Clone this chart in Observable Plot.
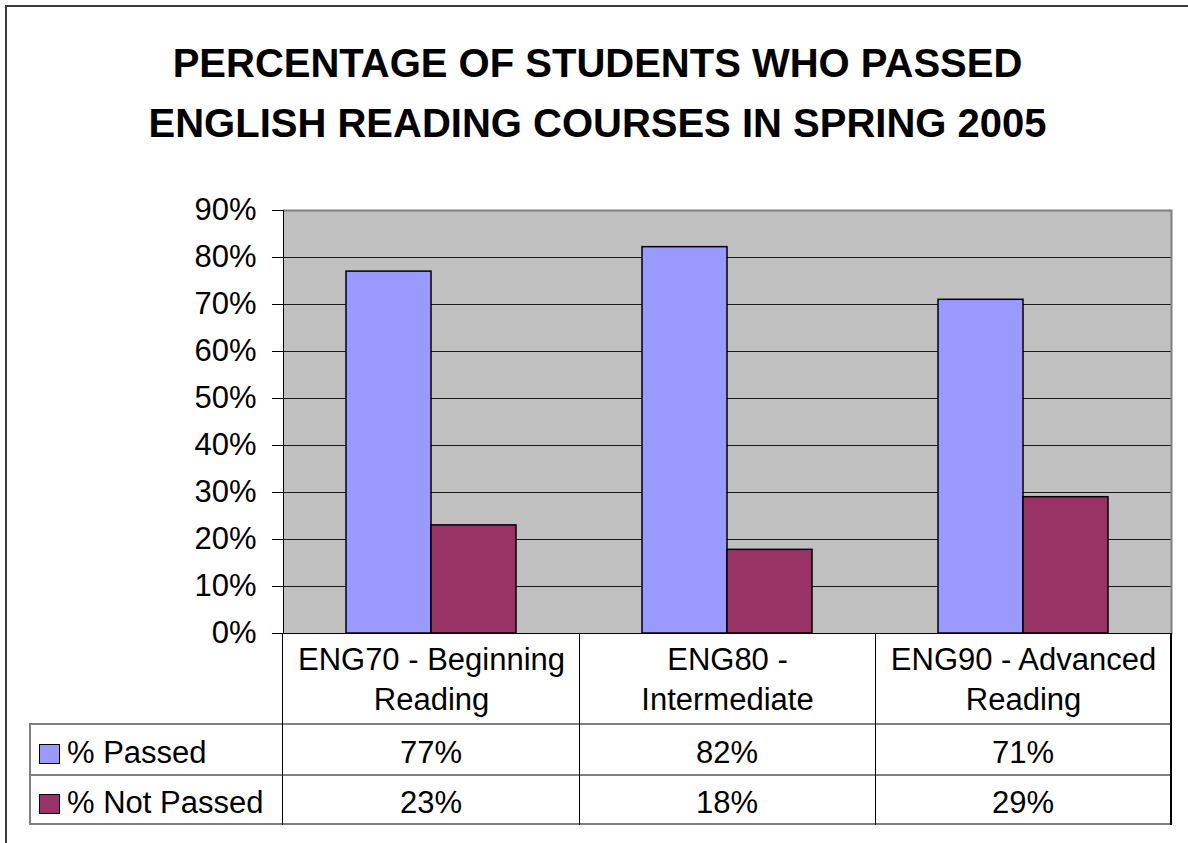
<!DOCTYPE html>
<html><head><meta charset="utf-8">
<script src="https://cdn.jsdelivr.net/npm/d3@7"></script>
<script src="https://cdn.jsdelivr.net/npm/@observablehq/plot@0.6"></script>
<style>
html,body{margin:0;padding:0;background:#fff;}
#wrap{position:relative;width:1188px;height:843px;overflow:hidden;font-family:"Liberation Sans",Arial,sans-serif;color:#000;}
#border{position:absolute;left:5px;top:5px;width:1300px;height:1000px;border-left:2px solid #3c3c3c;border-top:2px solid #3c3c3c;}
#title{position:absolute;left:0;top:33px;width:1195px;text-align:center;font-weight:bold;font-size:40px;line-height:60px;}
#chart{position:absolute;left:0;top:190px;}
.ln{position:absolute;}
.cell{position:absolute;text-align:center;font-size:31px;white-space:nowrap;}
.sw{display:inline-block;width:19px;height:18px;border:1.5px solid #000;margin-right:7px;vertical-align:-1px;}
</style>
</head><body>
<div id="wrap">
  <div id="border"></div>
  <div id="title">PERCENTAGE OF STUDENTS WHO PASSED<br>ENGLISH READING COURSES IN SPRING 2005</div>
  <div id="chart"></div>
</div>
<script>
const courses = ["ENG70 - Beginning Reading", "ENG80 - Intermediate", "ENG90 - Advanced Reading"];
const courseTickLabels = ["ENG70 - Beginning\nReading", "ENG80 -\nIntermediate", "ENG90 - Advanced\nReading"];
const seriesNames = ["% Passed", "% Not Passed"];
const seriesColors = ["#9999FF", "#993366"];
const passed = [0.77, 0.822, 0.71];
const notPassed = [0.23, 0.178, 0.29];
const yTicks = [0, 0.1, 0.2, 0.3, 0.4, 0.5, 0.6, 0.7, 0.8, 0.9];

const seriesValues = [passed, notPassed];
const data = courses.flatMap((c, i) => seriesNames.map((s, j) => ({course: c, series: s, value: seriesValues[j][i]})));
const pct = d3.format(".0%");

const chartTop = 190;
const chart = Plot.plot({
  width: 1188, height: 534,
  marginTop: 20, marginBottom: 91, marginLeft: 282, marginRight: 16,
  style: {fontFamily: '"Liberation Sans", Arial, sans-serif', fontSize: "31px", color: "#000", background: "transparent", overflow: "visible"},
  fx: {domain: courses, padding: 0, label: null},
  x: {domain: seriesNames, paddingInner: 0, paddingOuter: 0.727, axis: null},
  y: {domain: [0, 0.9], label: null},
  color: {domain: seriesNames, range: seriesColors},
  marks: [
    Plot.frame({fill: "#c0c0c0", stroke: "none", shapeRendering: "crispEdges"}),
    Plot.gridY(yTicks, {stroke: "#1a1a1a", strokeOpacity: 1, strokeWidth: 1, shapeRendering: "crispEdges"}),
    Plot.ruleY([0.9], {stroke: "#808080", strokeWidth: 2}),
    Plot.frame({anchor: "right", facetAnchor: "right", stroke: "#808080", strokeWidth: 2}),
    Plot.barY(data, {fx: "course", x: "series", y: "value", fill: "series", stroke: "#000", strokeWidth: 1.5}),
    Plot.ruleY([0], {stroke: "#000"}),
    Plot.frame({anchor: "left", facetAnchor: "left", stroke: "#000"}),
    Plot.axisY(yTicks, {anchor: "left", tickSize: 11, tickPadding: 16, tickFormat: pct, label: null, stroke: "#000"}),
    Plot.axisFx({anchor: "bottom", tickSize: 0, tickPadding: 8, label: null, lineHeight: 1.3,
      tickFormat: c => courseTickLabels[courses.indexOf(c)]})
  ]
});
document.getElementById("chart").appendChild(chart);

// data table (legend + values) aligned to the fx scale
const wrap = document.getElementById("wrap");
const fxS = chart.scale("fx");
const yS = chart.scale("y");
const base = chartTop + yS.apply(0);             // page y of 0%
const headerBottom = chartTop + 534;             // bottom of SVG
const rowEdges = [headerBottom, headerBottom + 51, headerBottom + 100];
const tableLeft = 30;
const colEdges = [fxS.range[0], ...courses.map(c => fxS.apply(c) + fxS.bandwidth)];
const right = colEdges[colEdges.length - 1];

function line(x, y, w, h, color) {
  const d = document.createElement("div");
  d.className = "ln";
  Object.assign(d.style, {left: x + "px", top: y + "px", width: w + "px", height: h + "px", background: color});
  wrap.appendChild(d);
}
rowEdges.forEach(y => line(tableLeft, y - 1, right - tableLeft + 1, 2, "#808080"));
line(tableLeft - 1, rowEdges[0] - 1, 2, rowEdges[2] - rowEdges[0] + 2, "#808080");
colEdges.forEach((x, i) => line(Math.round(x) - (i === colEdges.length - 1 ? 1 : 0.5), base, i === colEdges.length - 1 ? 2 : 1, rowEdges[2] - base + 1, "#000"));

seriesNames.forEach((s, j) => {
  const top = rowEdges[j], h = rowEdges[j + 1] - rowEdges[j];
  const lg = document.createElement("div");
  lg.className = "cell";
  Object.assign(lg.style, {left: (tableLeft + 9) + "px", top: (top + 3) + "px", lineHeight: h + "px", textAlign: "left"});
  lg.innerHTML = `<span class="sw" style="background:${seriesColors[j]}"></span>`;
  lg.appendChild(document.createTextNode(s));
  wrap.appendChild(lg);
  courses.forEach((c, i) => {
    const cell = document.createElement("div");
    cell.className = "cell";
    Object.assign(cell.style, {left: fxS.apply(c) + "px", width: fxS.bandwidth + "px", top: (top + 3) + "px", lineHeight: h + "px"});
    cell.textContent = pct(seriesValues[j][i]);
    wrap.appendChild(cell);
  });
});
</script>
</body></html>
